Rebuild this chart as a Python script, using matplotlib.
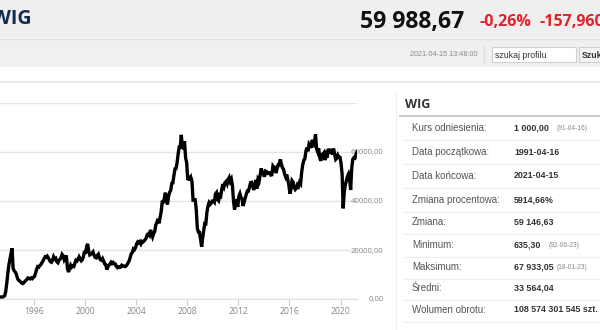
import pandas as pd
import matplotlib
matplotlib.use("Agg")
import matplotlib.pyplot as plt
import matplotlib.dates as mdates
from matplotlib.patches import Rectangle
from matplotlib.ticker import FuncFormatter

# WIG index, monthly values (May 1993 - Apr 2021)
wig = (
    [800, 820, 850, 950, 1300, 3000, 6500, 10500]  # 1993 (May-Dec)
    + [14000, 16500, 18500, 20700, 12500, 11500, 11000, 10200, 8500, 7700, 7400, 7000]
    + [6500, 6300, 6600, 7200, 7600, 8000, 8600, 8400, 8200, 8600, 8300, 8800]
    + [9200, 10500, 12000, 13200, 13000, 13600, 14000, 14800, 15500, 16500, 17200, 17000]
    + [17500, 16800, 16000, 15200, 15000, 15800, 17200, 16300, 16600, 15200, 14800, 15800]
    + [16200, 17000, 18200, 17600, 16000, 16800, 17800, 12500, 11000, 12500, 13800, 13000]
    + [13500, 13300, 14600, 15800, 15500, 16200, 17200, 16400, 15600, 16000, 17300, 19500]
    + [18500, 21500, 22500, 19500, 18000, 18300, 18600, 19200, 17800, 17000, 16800, 17800]
    + [18300, 16800, 16000, 15800, 16500, 15500, 14300, 14000, 12000, 13100, 13900, 14200]
    + [15000, 14500, 14900, 14400, 14300, 13300, 12800, 13100, 12900, 13000, 13800, 13600]
    + [13400, 13200, 13400, 14000, 14800, 15600, 17000, 18500, 19000, 20500, 20200, 21000]
    + [22500, 23300, 22900, 23400, 22500, 23500, 23300, 23700, 24300, 24900, 26300, 26600]
    + [26000, 28200, 26900, 25400, 26700, 27600, 30200, 31200, 32700, 30900, 33400, 35600]
    + [39600, 39600, 40900, 43400, 40000, 38600, 41900, 43600, 44300, 47200, 47400, 50400]
    + [53100, 53300, 55500, 59200, 62000, 62000, 67000, 61700, 61500, 64300, 57600, 55600]
    + [48500, 50300, 48400, 49500, 47900, 40400, 40500, 40500, 36300, 28800, 27300, 27200]
    + [24500, 21300, 24900, 28000, 30800, 30700, 35300, 37900, 39300, 38600, 39100, 40000]
    + [40000, 39500, 42800, 43400, 40600, 40100, 42400, 42000, 44900, 46900, 45800, 47500]
    + [48000, 47000, 48700, 49600, 48000, 48900, 46400, 40000, 36500, 40700, 39500, 37600]
    + [41900, 43000, 41500, 40900, 38000, 39600, 41200, 42800, 44100, 44100, 45700, 47500]
    + [47600, 46000, 44500, 46300, 48600, 45100, 48800, 48000, 50500, 53300, 51900, 51300]
    + [49900, 52200, 52000, 51300, 51500, 51500, 50600, 50700, 54200, 53600, 53700, 51400]
    + [53400, 54800, 54800, 57000, 55000, 53600, 53000, 51000, 49800, 50800, 48700, 46500]
    + [43000, 45000, 48300, 47700, 45600, 44700, 45200, 46600, 46000, 47600, 47000, 51800]
    + [54800, 56700, 57100, 60300, 61800, 60300, 63300, 62700, 61700, 65000, 62000, 63700]
    + [67200, 61300, 60200, 61500, 57700, 56400, 59000, 59100, 59700, 56700, 58700, 57700]
    + [61300, 60000, 60000, 61200, 58900, 61400, 59100, 57000, 57500, 58700, 57800, 57800]
    + [55400, 50900, 37000, 43600, 46500, 48200, 50000, 51000, 49000, 44500, 53400, 57000]
    + [57700, 57500, 58900, 59989]  # 2021 (Jan-Apr)
)
dates = pd.date_range("1993-05-01", periods=len(wig), freq="MS") + pd.Timedelta(days=14)

y_ticks = [0, 20000, 40000, 60000, 80000]

labels = ["Kurs odniesienia:", "Data początkowa:", "Data końcowa:", "Zmiana procentowa:",
          "Zmiana:", "Minimum:", "Maksimum:", "Średni:", "Wolumen obrotu:"]
values = ["1 000,00", "1991-04-16", "2021-04-15", "5914,66%", "59 146,63",
          "635,30", "67 933,05", "33 564,04", "108 574 301 545 szt."]
notes = ["(91-04-16)", "", "", "", "", "(92-06-23)", "(18-01-23)", "", ""]

W, H = 600, 330
fig = plt.figure(figsize=(6, 3.3), dpi=100)
fig.patch.set_facecolor("white")


def px(x, y):
    return x / W, 1 - y / H


def rect(x0, y0, x1, y1, **kw):
    fig.add_artist(Rectangle(px(x0, y1), (x1 - x0) / W, (y1 - y0) / H,
                             transform=fig.transFigure, **kw))


def hline(y, x0, x1, color, lw=1):
    fig.add_artist(plt.Line2D([x0 / W, x1 / W], [1 - y / H] * 2,
                              transform=fig.transFigure, color=color, lw=lw))


# header bands
rect(0, 0, 600, 38, facecolor="#efefef", edgecolor="none")
hline(38.5, 0, 600, "#dedede")
rect(0, 39, 600, 67, facecolor="#f0f0f0", edgecolor="none")
hline(82, 0, 600, "#ececec", 1.5)

fig.text(*px(31, 19), "WIG", ha="right", va="center", fontsize=14,
         fontweight="bold", color="#132a4a", family="Open Sans")
fig.text(*px(360, 22), "59 988,67", ha="left", va="center", fontsize=16.6,
         fontweight="bold", color="#111111", family="Open Sans")
fig.text(*px(480, 22), "-0,26%", ha="left", va="center", fontsize=11.5,
         fontweight="bold", color="#e2222b", family="Open Sans")
fig.text(*px(540, 22), "-157,960", ha="left", va="center", fontsize=11.5,
         fontweight="bold", color="#e2222b", family="Open Sans")

fig.text(*px(477, 55), "2021-04-15 13:48:00", ha="right", va="center",
         fontsize=5.2, color="#8a8a8a", family="Liberation Sans")
fig.add_artist(plt.Line2D([483.5 / W] * 2, [1 - 46 / H, 1 - 62 / H],
                          transform=fig.transFigure, color="#dddddd", lw=1))
rect(492, 47, 576, 62, facecolor="white", edgecolor="#cfcfcf", lw=0.8)
fig.text(*px(495, 55), "szukaj profilu", ha="left", va="center",
         fontsize=6.3, color="#333333", family="Liberation Sans")
rect(579, 47, 610, 62, facecolor="#f4f4f4", edgecolor="#cfcfcf", lw=0.8)
fig.text(*px(582, 55), "Szukaj", ha="left", va="center", fontsize=6.3,
         fontweight="bold", color="#333333", family="Liberation Sans")

# chart
ax = fig.add_axes([0, (H - 299) / H, 357 / W, (299 - 103) / H])
ax.plot(dates, wig, color="black", lw=2.4, solid_joinstyle="miter")
ax.set_xlim(pd.Timestamp("1993-05-05"), pd.Timestamp("2021-04-15"))
ax.set_ylim(0, 80000)
ax.set_yticks(y_ticks)
ax.yaxis.tick_right()
ax.yaxis.set_major_formatter(FuncFormatter(
    lambda v, p: "" if v >= 80000 else f"{v:.2f}".replace(".", ",")))
ax.tick_params(axis="y", length=0, pad=19, labelsize=5.6, labelcolor="#888888")
for t in ax.get_yticklabels():
    t.set_horizontalalignment("right")
    t.set_family("Open Sans")
ax.grid(axis="y", color="#e4e4e4", lw=1)
ax.xaxis.set_major_locator(mdates.YearLocator(4))
ax.xaxis.set_major_formatter(mdates.DateFormatter("%Y"))
ax.tick_params(axis="x", length=4, color="#cccccc", pad=2, labelsize=6.2,
               labelcolor="#888888")
for t in ax.get_xticklabels():
    t.set_family("Open Sans")
for s in ["left", "right", "top"]:
    ax.spines[s].set_visible(False)
ax.spines["bottom"].set_color("#dddddd")
ax.set_axisbelow(True)
ax.set_facecolor("none")

# right info panel
fig.add_artist(plt.Line2D([396 / W] * 2, [1 - 92 / H, 0],
                          transform=fig.transFigure, color="#f0f0f0", lw=1))
fig.text(*px(405, 105), "WIG", ha="left", va="center", fontsize=9,
         fontweight="bold", color="#333333", family="Open Sans")
hline(116, 400, 600, "#cccccc", 1.5)
row_y = [128, 152, 176, 200, 222, 245, 267, 288, 310]
for i, (lab, val, note) in enumerate(zip(labels, values, notes)):
    y = row_y[i]
    fig.text(*px(412, y), lab, ha="left", va="center", fontsize=7,
             color="#555555", family="Liberation Sans")
    fig.text(*px(514, y), val, ha="left", va="center", fontsize=6.4,
             fontweight="bold", color="#333333", family="Liberation Sans")
    if note:
        nx = 549 if lab == "Minimum:" else 557
        fig.text(*px(nx, y + 0.5), note, ha="left", va="center", fontsize=4.8,
                 color="#888888", family="Liberation Sans")
    hline(y + 12, 403, 600, "#f0f0f0")

fig.savefig("out.png", dpi=100, facecolor="white")
